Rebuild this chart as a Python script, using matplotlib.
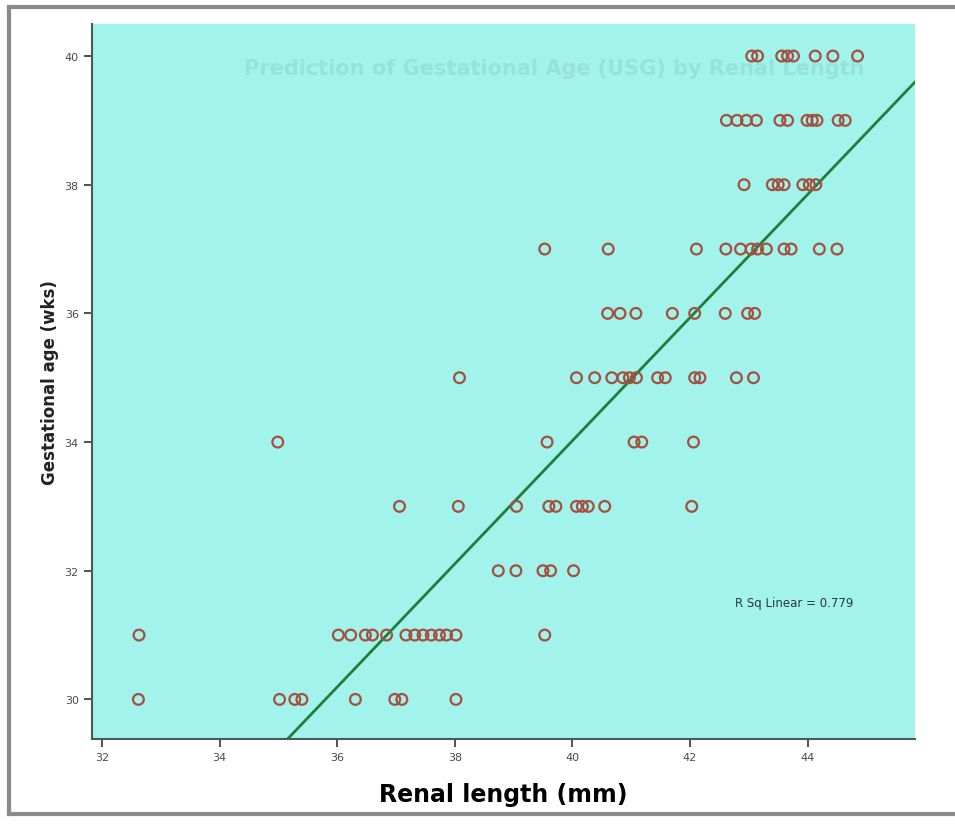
import matplotlib
matplotlib.use('Agg')
import matplotlib.pyplot as plt
import numpy as np
from matplotlib.lines import Line2D


# renal length (mm), one list per gestational-age row
rl_30 = [32.62, 35.02, 35.28, 35.40, 36.31, 36.98, 37.10, 38.02]
rl_31 = [32.63, 36.02, 36.23, 36.48, 36.60, 36.84, 37.17, 37.32, 37.46, 37.60,
         37.74, 37.86, 38.02, 39.53]
rl_32 = [38.74, 39.04, 39.50, 39.63, 40.02]
rl_33 = [37.06, 38.06, 39.05, 39.60, 39.72, 40.07, 40.17, 40.27, 40.55, 42.03]
rl_34 = [34.99, 39.57, 41.05, 41.18, 42.06]
rl_35 = [38.08, 40.07, 40.38, 40.67, 40.86, 40.97, 41.09, 41.45, 41.58, 42.08,
         42.17, 42.79, 43.08]
rl_36 = [40.60, 40.81, 41.08, 41.70, 42.08, 42.60, 42.98, 43.10]
rl_37 = [39.53, 40.61, 42.11, 42.61, 42.86, 43.04, 43.15, 43.30, 43.60, 43.72,
         44.20, 44.50]
rl_38 = [42.92, 43.40, 43.50, 43.60, 43.92, 44.03, 44.14]
rl_39 = [42.62, 42.80, 42.96, 43.13, 43.53, 43.66, 43.99, 44.08, 44.16, 44.52,
         44.64]
rl_40 = [43.05, 43.15, 43.56, 43.66, 43.76, 44.13, 44.43, 44.85]

ga_rows = [30, 31, 32, 33, 34, 35, 36, 37, 38, 39, 40]
rl_rows = [rl_30, rl_31, rl_32, rl_33, rl_34, rl_35, rl_36, rl_37, rl_38, rl_39, rl_40]

# fit line as printed on the chart
fit_slope = 0.957
fit_intercept = -4.26
r_sq = 0.779

x_ticks = [32, 34, 36, 38, 40, 42, 44]
y_ticks = [30, 32, 34, 36, 38, 40]

x = np.concatenate([np.array(r) for r in rl_rows])
y = np.concatenate([np.full(len(r), g, dtype=float) for g, r in zip(ga_rows, rl_rows)])

fig = plt.figure(figsize=(9.55, 8.29), dpi=100)
fig.patch.set_facecolor('white')

# photo frame (top, left, bottom edges only)
frame = dict(transform=fig.transFigure, color='#8a8a8a', linewidth=3)
fig.add_artist(Line2D([0.009, 1.0], [0.990, 0.990], **frame))
fig.add_artist(Line2D([0.009, 0.009], [0.017, 0.990], **frame))
fig.add_artist(Line2D([0.009, 1.0], [0.017, 0.017], **frame))

ax = fig.add_axes([0.0963, 0.107, 0.862, 0.863])
ax.set_facecolor('#a2f3eb')

ax.set_xlim(31.83, 45.83)
ax.set_ylim(29.38, 40.5)

# faded chart title in the background
ax.text(39.7, 39.82, 'Prediction of Gestational Age (USG) by Renal Length',
        ha='center', va='center', fontsize=15, fontweight='bold',
        color='#95e3da', zorder=1)

xs = np.array(ax.get_xlim())
ax.plot(xs, fit_slope * xs + fit_intercept, color='#1f7f3a', linewidth=2, zorder=2)

ax.scatter(x, y, s=60, facecolors='none', edgecolors='#a5503f', linewidths=1.6, zorder=3)

ax.text(42.77, 31.5, f'R Sq Linear = {r_sq}', fontsize=8.5, color='#2a3a3a',
        ha='left', va='center', family='Liberation Sans Narrow', zorder=4)

ax.set_xticks(x_ticks)
ax.set_yticks(y_ticks)
ax.tick_params(direction='out', length=6, width=1.2, colors='#333333',
               labelsize=8, labelcolor='#4a4a4a')

for side in ['top', 'right']:
    ax.spines[side].set_visible(False)
for side in ['left', 'bottom']:
    ax.spines[side].set_color('#4a5a5a')
    ax.spines[side].set_linewidth(1.5)

ax.set_xlabel('Renal length (mm)', fontsize=17, fontweight='bold', labelpad=14)
ax.set_ylabel('Gestational age (wks)', fontsize=12, fontweight='bold',
              color='#222222', labelpad=4)

plt.savefig('out.png', dpi=100)
plt.close()
